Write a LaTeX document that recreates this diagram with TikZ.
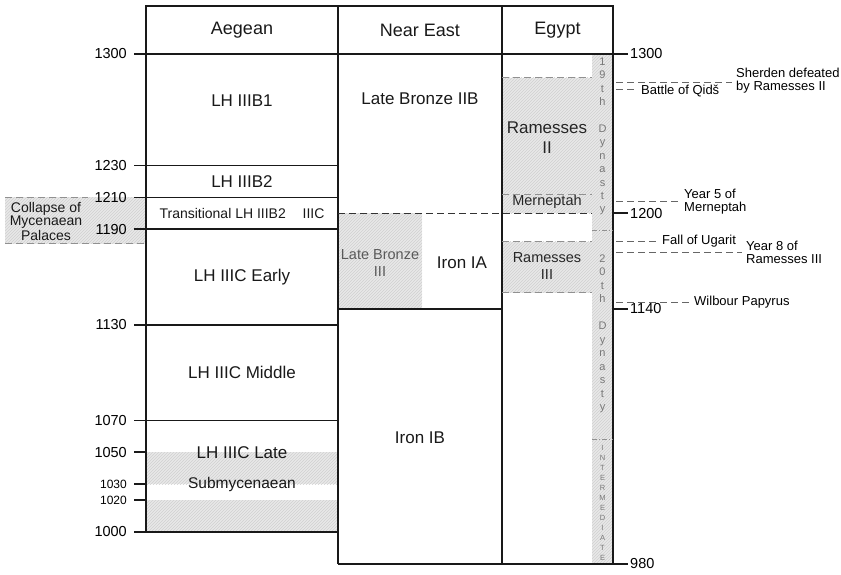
\documentclass[tikz,border=0pt]{standalone}
\usepackage{fontspec}
\setmainfont{Liberation Sans}
\usepackage{tikz}
\usetikzlibrary{patterns}
\definecolor{hatchgray}{RGB}{232,232,232}
\definecolor{stripegray}{RGB}{208,208,208}
\definecolor{lettergray}{RGB}{120,120,120}
\definecolor{rulegray}{RGB}{145,145,145}

\begin{document}
\begin{tikzpicture}[
    x=1pt, y=1.593pt,
    rule/.style={line width=1.6pt, black!90},
    hatched/.style={fill=hatchgray, postaction={pattern=north east lines, pattern color=stripegray}},
    head/.style={font=\fontsize{18}{20}\selectfont, text=black!90},
    band/.style={font=\fontsize{17}{20}\selectfont, align=center, text=black!90},
    small/.style={font=\fontsize{14.5}{17}\selectfont, align=center, text=black!85},
    yr/.style={font=\fontsize{14.5}{16}\selectfont, anchor=east, inner sep=0pt},
    yrsmall/.style={font=\fontsize{12}{14}\selectfont, anchor=east, inner sep=0pt},
    yrr/.style={font=\fontsize{14.5}{16}\selectfont, anchor=west, inner sep=0pt},
    note/.style={font=\fontsize{13}{13}\selectfont, align=left, anchor=west, inner sep=0pt},
    reign/.style={rulegray, line width=1pt, dash pattern=on 7pt off 4pt},
    notearr/.style={black!60, line width=1pt, dash pattern=on 7pt off 4pt, shorten >=4pt},
    letters/.style={font=\fontsize{11}{13.4}\selectfont, text=lettergray, align=center, inner sep=0pt},
]
\useasboundingbox (0,972.95) rectangle (841,1333.9);

% shaded areas
\fill[hatched] (5,1210) rectangle (146,1181);
\fill[hatched] (146,1050) rectangle (338,1030);
\fill[hatched] (146,1020) rectangle (338,1000);
\fill[hatched] (338,1200) rectangle (422,1140);
\fill[hatched] (502,1285) rectangle (592,1200);
\fill[hatched] (502,1182) rectangle (592,1150);
\fill[hatched] (592,1300) rectangle (613,980);

% frame
\draw[rule] (146,1000) -- (146,1330) -- (613,1330) -- (613,980);
\draw[rule] (338,1330) -- (338,980);
\draw[rule] (502,1330) -- (502,980);
\draw[rule] (134,1300) -- (628,1300);
\draw[rule] (338,980) -- (628,980);
\draw[rule] (134,1000) -- (338,1000);
\draw[rule] (134,1230) -- (338,1230);
\draw[rule] (134,1210) -- (338,1210);
\draw[rule] (134,1190) -- (338,1190);
\draw[rule] (134,1130) -- (338,1130);
\draw[rule] (134,1070) -- (338,1070);
\draw[rule] (134,1050) -- (146,1050);
\draw[rule] (134,1030) -- (146,1030);
\draw[rule] (134,1020) -- (146,1020);
\draw[rule] (338,1140) -- (502,1140);
\draw[rule] (613,1200) -- (628,1200);
\draw[rule] (613,1140) -- (628,1140);
\draw[black!80, line width=1.3pt, dash pattern=on 7pt off 4pt] (338,1200) -- (592,1200);

% reigns and collapse
\draw[reign] (502,1285) -- (592,1285);
\draw[reign] (502,1212) -- (592,1212);
\draw[reign] (502,1182) -- (592,1182);
\draw[reign] (502,1150) -- (592,1150);
\draw[reign] (5,1210) -- (88,1210);
\draw[reign] (5,1181) -- (146,1181);
\draw[rulegray, line width=1pt, dash pattern=on 5pt off 2pt on 1pt off 2pt] (592,1189) -- (613,1189);
\draw[rulegray, line width=1pt, dash pattern=on 5pt off 2pt on 1pt off 2pt] (592,1058) -- (613,1058);

% headers
\node[head] (aegean) at (242,1315) {Aegean};
\node[head] (neareast) at (420,1315) {Near East};
\node[head] (egypt) at (557.5,1315) {Egypt};

% years
\node[yr] (l1300) at (127,1300) {1300};
\node[yr] (l1230) at (127,1230) {1230};
\node[yr] (l1210) at (127,1210) {1210};
\node[yr] (l1190) at (127,1190) {1190};
\node[yr] (l1130) at (127,1130) {1130};
\node[yr] (l1070) at (127,1070) {1070};
\node[yr] (l1050) at (127,1050) {1050};
\node[yrsmall] (l1030) at (127,1030) {1030};
\node[yrsmall] (l1020) at (127,1020) {1020};
\node[yr] (l1000) at (127,1000) {1000};
\node[yrr] (r1300) at (630,1300) {1300};
\node[yrr] (r1200) at (630,1200) {1200};
\node[yrr] (r1140) at (630,1140) {1140};
\node[yrr] (r980) at (630,980) {980};

% Aegean
\node[band] (lhiiib1) at (242,1271) {LH IIIB1};
\node[band] (lhiiib2) at (242,1220) {LH IIIB2};
\node[font=\fontsize{14}{16}\selectfont, text=black!90] (trans) at (242,1200) {Transitional LH IIIB2\hspace{1.2em}IIIC};
\node[band] (lhiiicearly) at (242,1160) {LH IIIC Early};
\node[band] (lhiiicmid) at (242,1100) {LH IIIC Middle};
\node[band] (lhiiiclate) at (242,1050) {LH IIIC Late};
\node[font=\fontsize{15.5}{18}\selectfont, text=black!90] (submyc) at (242,1029.5) {Submycenaean};
\node[font=\fontsize{14}{12.5}\selectfont, align=center, text=black!90] (collapse) at (46,1195) {Collapse of\\Mycenaean\\Palaces};

% Near East
\node[band] (lbiib) at (420,1272) {Late Bronze IIB};
\node[font=\fontsize{14.5}{17}\selectfont, align=center, text=black!65] (lbiii) at (380,1168.5) {Late Bronze\\III};
\node[band] (ironia) at (462,1168.8) {Iron IA};
\node[band] (ironib) at (420,1059) {Iron IB};

% Egypt
\node[font=\fontsize{17}{20}\selectfont, align=center, text=black!85] (ramii) at (547,1247.3) {Ramesses\\II};
\node[small] (mern) at (547,1207) {Merneptah};
\node[small] (ramiii) at (547,1166.6) {Ramesses\\III};
\node[letters] (dyn19) at (602.5,1248.2) {1\\9\\t\\h\\[13.4pt]D\\y\\n\\a\\s\\t\\y};
\node[letters, font=\fontsize{11}{13.5}\selectfont] (dyn20) at (602.5,1124.5) {2\\0\\t\\h\\[13.5pt]D\\y\\n\\a\\s\\t\\y};
\node[letters, font=\fontsize{7.5}{10}\selectfont] (interm) at (602.5,1018.1) {I\\N\\T\\E\\R\\M\\E\\D\\I\\A\\T\\E};

% events
\node[note] (sherden) at (736,1283.4) {Sherden defeated\\by Ramesses II};
\node[note] (qids) at (641,1276.8) {Battle of Qidš};
\node[note] (year5) at (684,1207.1) {Year 5 of\\Merneptah};
\node[note] (ugarit) at (662,1182.6) {Fall of Ugarit};
\node[note] (year8) at (746,1175.7) {Year 8 of\\Ramesses III};
\node[note] (wilbour) at (694,1144.3) {Wilbour Papyrus};

\coordinate (sherdenfrom) at (616,1282.4);
\coordinate (qidsfrom) at (616,1277.4);
\coordinate (year5from) at (616,1207.7);
\coordinate (ugaritfrom) at (616,1182);
\coordinate (year8from) at (616,1175.1);
\coordinate (wilbourfrom) at (616,1144.3);

\draw[notearr] (sherdenfrom) -- (sherden.west |- sherdenfrom);
\draw[notearr] (qidsfrom) -- (qids.west |- qidsfrom);
\draw[notearr] (year5from) -- (year5.west |- year5from);
\draw[notearr] (ugaritfrom) -- (ugarit.west |- ugaritfrom);
\draw[notearr] (year8from) -- (year8.west |- year8from);
\draw[notearr] (wilbourfrom) -- (wilbour.west |- wilbourfrom);
\end{tikzpicture}
\end{document}
